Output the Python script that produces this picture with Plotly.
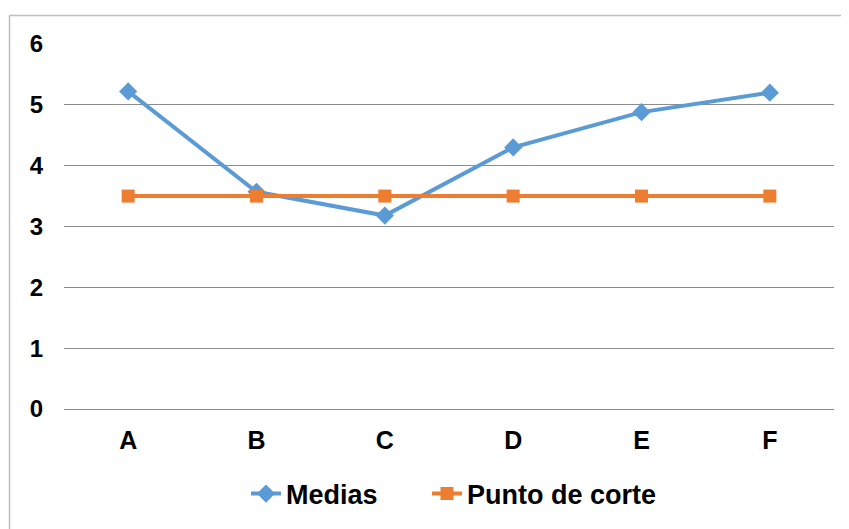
import plotly.graph_objects as go

categories = ["A", "B", "C", "D", "E", "F"]
medias = [5.22, 3.57, 3.18, 4.30, 4.88, 5.20]
punto_corte = [3.5, 3.5, 3.5, 3.5, 3.5, 3.5]
y_ticks = [0, 1, 2, 3, 4, 5, 6]

OFF = 8  # page body margin
W, H = 849 - OFF, 529 - OFF
L, R, T, B = 64 - OFF, 15, 44 - OFF, 119
pw, ph = W - L - R, H - T - B

def px_x(p):
    return (p - OFF - L) / pw

def px_y(p):
    return (H - B - (p - OFF)) / ph

fig = go.Figure()
fig.add_trace(go.Scatter(
    x=categories, y=medias, name="Medias", mode="lines+markers",
    line=dict(color="#5B9BD5", width=4),
    marker=dict(symbol="diamond", size=14, color="#5B9BD5"),
    legend="legend",
))
fig.add_trace(go.Scatter(
    x=categories, y=punto_corte, name="Punto de corte", mode="lines+markers",
    line=dict(color="#ED7D31", width=4),
    marker=dict(symbol="square", size=13, color="#ED7D31"),
    legend="legend2",
))

font = "Liberation Sans, Arial, sans-serif"
legfont = dict(family=font, size=27, color="black", weight="bold")
fig.update_layout(
    width=W, height=H,
    margin=dict(l=L, r=R, t=T, b=B),
    paper_bgcolor="white", plot_bgcolor="white",
    showlegend=True,
    legend=dict(
        orientation="h", x=px_x(246), xanchor="left",
        y=px_y(494), yanchor="middle", font=legfont, bgcolor="rgba(0,0,0,0)",
    ),
    legend2=dict(
        orientation="h", x=px_x(427), xanchor="left",
        y=px_y(494), yanchor="middle", font=legfont, bgcolor="rgba(0,0,0,0)",
    ),
    xaxis=dict(
        type="category", categoryorder="array", categoryarray=categories,
        range=[-0.5, 5.5], showgrid=False, zeroline=False, showline=False,
        ticks="", ticklabelstandoff=14,
        tickfont=dict(family=font, size=25, color="black", weight="bold"),
    ),
    yaxis=dict(
        range=[0, 6], tickvals=y_ticks, showgrid=True, gridcolor="#8C8C8C",
        gridwidth=1, zeroline=True, zerolinecolor="#8C8C8C", zerolinewidth=1,
        showline=False, ticks="",
        ticklabelstandoff=20,
        tickfont=dict(family=font, size=24, color="black", weight="bold"),
    ),
    shapes=[
        dict(type="line", xref="paper", yref="paper",
             x0=px_x(9.5), x1=px_x(849 + 5), y0=px_y(15.5), y1=px_y(15.5),
             line=dict(color="#BFBFBF", width=1.5)),
        dict(type="line", xref="paper", yref="paper",
             x0=px_x(9.5), x1=px_x(9.5), y0=px_y(15.5), y1=px_y(529 + 5),
             line=dict(color="#BFBFBF", width=1.5)),
    ],
)

fig.write_html("out.html")
